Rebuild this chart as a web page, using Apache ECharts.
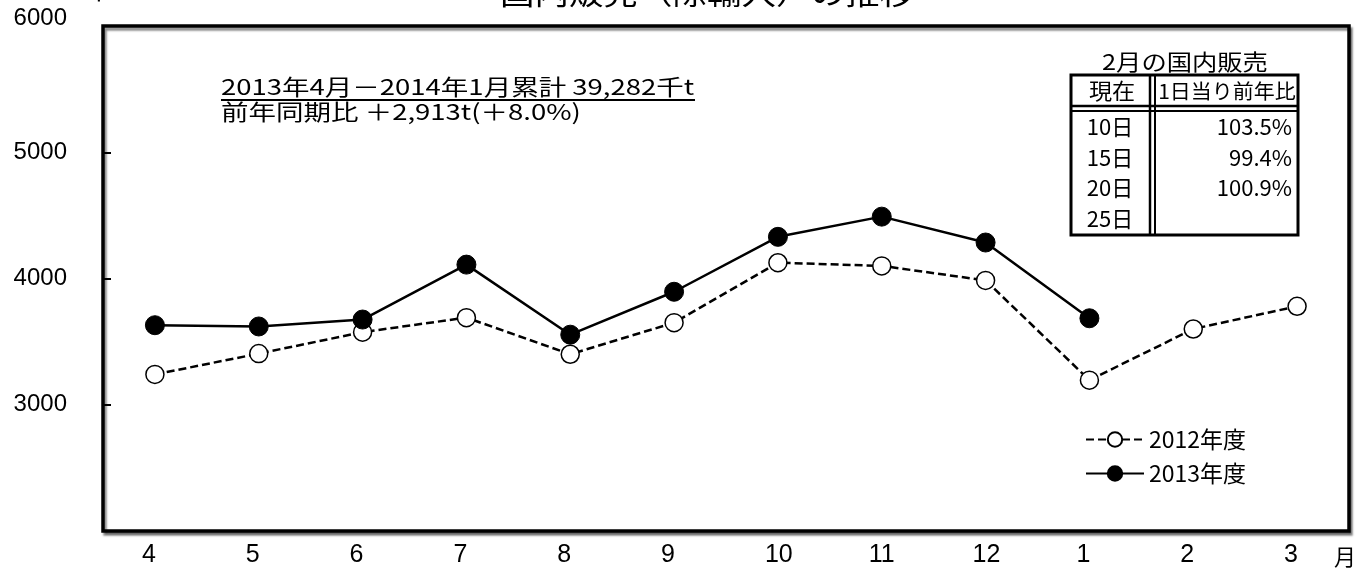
<!DOCTYPE html>
<html><head><meta charset="utf-8">
<script src="https://cdn.jsdelivr.net/npm/echarts@6/dist/echarts.min.js"></script>
<style>html,body{margin:0;padding:0;background:#fff}#c{width:1357px;height:575px}</style>
</head><body><div id="c"></div>
<script>
const months = ['4','5','6','7','8','9','10','11','12','1','2','3'];
const fy2012 = [3240, 3405, 3575, 3690, 3400, 3650, 4125, 4100, 3985, 3195, 3600, 3780];
const fy2013 = [3630, 3620, 3675, 4110, 3555, 3895, 4330, 4490, 4285, 3685, null, null];
const seriesNames = ['2012年度', '2013年度'];
const yTicks = [3000, 4000, 5000, 6000];
const tableDays = ['10日', '15日', '20日', '25日'];
const tableRatios = ['103.5%', '99.4%', '100.9%', ''];

const JP = "'Noto Sans CJK JP', sans-serif";
const chart = echarts.init(document.getElementById('c'));

const g = [];
function txt(x, y, text, size, align, sx, extra) {
  g.push(Object.assign({
    type: 'text', x: x, y: y, scaleX: sx || 1, z: 100,
    style: { text: text, fontSize: size, fontFamily: JP, fill: '#000',
      textAlign: align, textVerticalAlign: 'middle', align: align, verticalAlign: 'middle' }
  }, extra || {}));
}
function ln(x1, y1, x2, y2, w) {
  g.push({ type: 'line', z: 100, shape: { x1: x1, y1: y1, x2: x2, y2: y2 }, style: { stroke: '#000', lineWidth: w } });
}
// top cut-off title and unit
txt(707, -7, '国内販売（除輸入）の推移', 30, 'center', 1.15);
txt(104, -9, '千t', 22, 'center', 1.2);
// annotation
txt(221, 87, '2013年4月－2014年1月累計 39,282千t', 22, 'left', 1.25);
ln(221, 100, 695, 100, 2);
txt(221, 112, '前年同期比 ＋2,913t(＋8.0%)', 22, 'left', 1.25);
// table
g.push({ type: 'rect', z: 99, shape: { x: 1071, y: 75, width: 227, height: 160 }, style: { fill: '#fff', stroke: '#000', lineWidth: 3 } });
ln(1071, 106, 1298, 106, 2.5);
ln(1071, 111, 1298, 111, 2);
ln(1150, 75, 1150, 235, 2.5);
ln(1155, 75, 1155, 235, 2);
txt(1185, 62, '2月の国内販売', 22, 'center', 1.15);
txt(1112, 91, '現在', 22, 'center', 1.05);
txt(1227, 91, '1日当り前年比', 20, 'center', 1.05);
const rowY = [127, 157.5, 187.5, 219];
tableDays.forEach((d, i) => {
  txt(1110, rowY[i], d, 22, 'center', 1.0);
  if (tableRatios[i]) txt(1292, rowY[i], tableRatios[i], 22, 'right', 1.0);
});
// month unit
txt(1345, 557, '月', 22, 'center', 1);

chart.setOption({
  animation: false,
  backgroundColor: '#fff',
  grid: { left: 103, top: 26, width: 1246, height: 505, show: true, borderColor: '#000', borderWidth: 3.5,
    backgroundColor: '#fff', shadowColor: 'rgba(0,0,0,0.45)', shadowOffsetX: 2, shadowOffsetY: 3, shadowBlur: 2 },
  xAxis: {
    type: 'category', data: months, boundaryGap: true,
    axisLine: { show: false }, axisTick: { show: false }, splitLine: { show: false },
    axisLabel: { color: '#000', margin: 12,
      formatter: v => '{a|' + v + '}',
      rich: { a: { width: 26, align: 'left', fontSize: 25, color: '#000',
        fontFamily: "'Liberation Sans Narrow','Liberation Sans',sans-serif" } } }
  },
  yAxis: {
    type: 'value', min: 2000, max: 6000, interval: 1000,
    axisLine: { show: false }, splitLine: { show: false },
    axisTick: { show: true, inside: true, length: 8, lineStyle: { color: '#000', width: 2 } },
    axisLabel: { color: '#000', margin: 36,
      formatter: v => (yTicks.indexOf(v) < 0 ? '' : (v === 6000 ? '{t|' + v + '}' : '{n|' + v + '}')),
      rich: {
        n: { fontSize: 24, fontFamily: "'Liberation Sans',sans-serif", color: '#000' },
        t: { fontSize: 24, fontFamily: "'Liberation Sans',sans-serif", color: '#000', padding: [0, 0, 16, 0] }
      } }
  },
  legend: {
    orient: 'vertical', left: 1080, top: 423, itemWidth: 58, itemHeight: 18, itemGap: 11,
    textStyle: { fontSize: 23, fontFamily: JP, color: '#000' },
    data: seriesNames
  },
  graphic: g,
  series: [
    { name: seriesNames[0], type: 'line', data: fy2012, symbol: 'circle', symbolSize: 18,
      itemStyle: { color: '#fff', borderColor: '#000', borderWidth: 1.5 },
      lineStyle: { color: '#000', width: 2.5, type: [8, 4] }, z: 3 },
    { name: seriesNames[1], type: 'line', data: fy2013, symbol: 'circle', symbolSize: 19,
      itemStyle: { color: '#000', borderColor: '#000', borderWidth: 1 },
      lineStyle: { color: '#000', width: 2.5, type: 'solid' }, z: 4 }
  ]
});
</script></body></html>
